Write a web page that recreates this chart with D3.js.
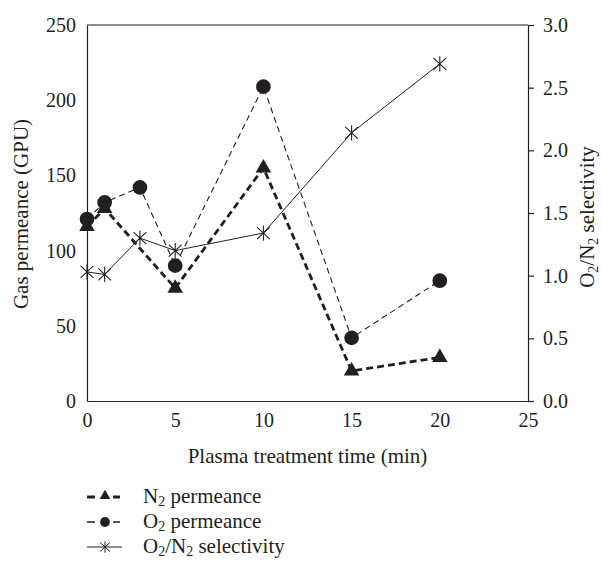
<!DOCTYPE html>
<html>
<head>
<meta charset="utf-8">
<script src="https://cdn.jsdelivr.net/npm/d3@7"></script>
<style>
  body { margin: 0; background: #fff; }
  svg { display: block; }
  text { font-family: "Liberation Serif", "DejaVu Serif", serif; fill: #231f20; }
</style>
</head>
<body>
<svg id="chart" width="602" height="562"></svg>
<script>
// ---- data ----
const xTicks = [0, 5, 10, 15, 20, 25];
const leftTicks = [0, 50, 100, 150, 200, 250];
const rightTicks = [0, 0.5, 1.0, 1.5, 2.0, 2.5, 3.0];

const timeN2 = [0, 1, 5, 10, 15, 20];
const n2Perm = [116, 128, 75, 155, 20, 29];

const timeO2 = [0, 1, 3, 5, 10, 15, 20];
const o2Perm = [121, 132, 142, 90, 209, 42, 80];

const timeSel = [0, 1, 3, 5, 10, 15, 20];
const selectivity = [1.03, 1.01, 1.30, 1.20, 1.34, 2.14, 2.69];

const xTitle = "Plasma treatment time (min)";
const yLeftTitle = "Gas permeance (GPU)";

// ---- layout ----
const svg = d3.select("#chart");
const pL = 87, pR = 528, pT = 25, pB = 401;
const ink = "#231f20";
const FS = 21, TFS = 20, SUB = 14;

const x = d3.scaleLinear().domain([0, 25]).range([pL, pR]);
const yL = d3.scaleLinear().domain([0, 250]).range([pB, pT]);
const yR = d3.scaleLinear().domain([0, 3]).range([pB, pT]);

// frame top line
svg.append("line").attr("x1", pL).attr("x2", pR).attr("y1", pT).attr("y2", pT)
  .attr("stroke", ink).attr("stroke-width", 1.2);

const gL = svg.append("g").attr("transform", `translate(${pL},0)`)
  .call(d3.axisLeft(yL).tickValues(leftTicks).tickSize(0).tickPadding(11).tickFormat(d3.format("d")));
const gB = svg.append("g").attr("transform", `translate(0,${pB})`)
  .call(d3.axisBottom(x).tickValues(xTicks).tickSize(0).tickPadding(12).tickFormat(d3.format("d")));
const gR = svg.append("g").attr("transform", `translate(${pR},0)`)
  .call(d3.axisRight(yR).tickValues(rightTicks).tickSize(6).tickPadding(9).tickFormat(d3.format(".1f")));

[gL, gB, gR].forEach(g => {
  g.select(".domain").attr("stroke", ink).attr("stroke-width", 1.2);
  g.selectAll(".tick line").attr("stroke", ink).attr("stroke-width", 1.2);
  g.selectAll(".tick text").attr("font-family", '"Liberation Serif", serif')
    .attr("font-size", TFS).attr("fill", ink);
});

// axis titles
svg.append("text").attr("transform", `translate(28,${(pT + pB) / 2 + 1}) rotate(-90)`)
  .attr("text-anchor", "middle").attr("font-size", FS).text(yLeftTitle);

const rt = svg.append("text").attr("transform", `translate(594,${(pT + pB) / 2 + 4}) rotate(-90)`)
  .attr("text-anchor", "middle").attr("font-size", FS);
rt.append("tspan").text("O");
rt.append("tspan").attr("font-size", SUB).attr("dy", 4).text("2");
rt.append("tspan").attr("dy", -4).text("/N");
rt.append("tspan").attr("font-size", SUB).attr("dy", 4).text("2");
rt.append("tspan").attr("dy", -4).text(" selectivity");

svg.append("text").attr("x", (pL + pR) / 2).attr("y", 463)
  .attr("text-anchor", "middle").attr("font-size", FS).text(xTitle);

// ---- series ----
const n2Data = timeN2.map((t, i) => ({ t, v: n2Perm[i] }));
const o2Data = timeO2.map((t, i) => ({ t, v: o2Perm[i] }));
const selData = timeSel.map((t, i) => ({ t, v: selectivity[i] }));

const lineL = d3.line().x(d => x(d.t)).y(d => yL(d.v));
const lineR = d3.line().x(d => x(d.t)).y(d => yR(d.v));

svg.append("path").datum(selData).attr("d", lineR)
  .attr("fill", "none").attr("stroke", ink).attr("stroke-width", 1);
svg.append("path").datum(o2Data).attr("d", lineL)
  .attr("fill", "none").attr("stroke", ink).attr("stroke-width", 1.1).attr("stroke-dasharray", "6,4");
svg.append("path").datum(n2Data).attr("d", lineL)
  .attr("fill", "none").attr("stroke", ink).attr("stroke-width", 2.8).attr("stroke-dasharray", "7,4");

const triSym = d3.symbol().type(d3.symbolTriangle);
const circSym = d3.symbol().type(d3.symbolCircle);

function starPath(r) {
  const a = r * 0.8, b = r * 0.75;
  return `M${-a},${-b}L${a},${b}M${-a},${b}L${a},${-b}M0,${-r * 0.95}L0,${r * 0.95}`;
}

svg.append("g").selectAll("path").data(selData).join("path")
  .attr("transform", d => `translate(${x(d.t)},${yR(d.v)})`)
  .attr("d", starPath(8)).attr("stroke", ink).attr("stroke-width", 1.1).attr("fill", "none");

svg.append("g").selectAll("path").data(n2Data).join("path")
  .attr("transform", d => `translate(${x(d.t)},${yL(d.v)})`)
  .attr("d", triSym.size(105)()).attr("fill", ink);

svg.append("g").selectAll("path").data(o2Data).join("path")
  .attr("transform", d => `translate(${x(d.t)},${yL(d.v)})`)
  .attr("d", circSym.size(170)()).attr("fill", ink);

// ---- legend ----
const legend = [
  { type: "tri", w: 3, label: ["N", "2", " permeance"] },
  { type: "circ", w: 1.5, label: ["O", "2", " permeance"] },
  { type: "star", w: 1, label: ["O", "2", "/N", "2", " selectivity"] }
];
legend.forEach((item, i) => {
  const yy = 497 + i * 25;
  const g = svg.append("g").attr("transform", `translate(0,${yy})`);
  if (item.type === "star") {
    g.append("line").attr("x1", 87).attr("x2", 122).attr("y1", 0).attr("y2", 0).attr("stroke", ink).attr("stroke-width", 1);
    g.append("path").attr("transform", "translate(105,0)").attr("d", starPath(6)).attr("stroke", ink).attr("stroke-width", 1).attr("fill", "none");
  } else {
    g.append("line").attr("x1", 87).attr("x2", 95).attr("y1", 0).attr("y2", 0).attr("stroke", ink).attr("stroke-width", item.w);
    g.append("line").attr("x1", 113).attr("x2", 120).attr("y1", 0).attr("y2", 0).attr("stroke", ink).attr("stroke-width", item.w);
    if (item.type === "tri")
      g.append("path").attr("transform", "translate(105,-1)").attr("d", triSym.size(50)()).attr("fill", ink);
    else
      g.append("path").attr("transform", "translate(105,0)").attr("d", circSym.size(75)()).attr("fill", ink);
  }
  const t = g.append("text").attr("x", 143).attr("y", 6).attr("font-size", FS);
  item.label.forEach((s, k) => {
    const ts = t.append("tspan").text(s);
    if (s === "2") ts.attr("font-size", SUB).attr("dy", 3);
    else if (k > 0) ts.attr("dy", -3);
  });
});
</script>
</body>
</html>
